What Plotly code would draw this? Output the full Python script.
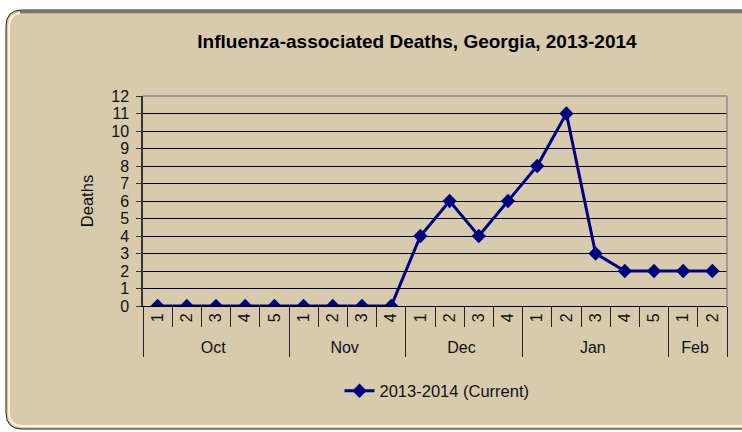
import plotly.graph_objects as go

# ---- data ----
months = ["Oct"] * 5 + ["Nov"] * 4 + ["Dec"] * 4 + ["Jan"] * 5 + ["Feb"] * 2
weeks = ["1", "2", "3", "4", "5",
         "1", "2", "3", "4",
         "1", "2", "3", "4",
         "1", "2", "3", "4", "5",
         "1", "2"]
deaths = [0, 0, 0, 0, 0,
          0, 0, 0, 0,
          4, 6, 4, 6,
          8, 11, 3, 2, 2,
          2, 2]
y_ticks = list(range(0, 13))

# ---- geometry (pixels in the 742x432 window) ----
W, H = 742, 432
L, R, T, B = 143, 727, 96, 306
PW, PH = R - L, B - T


def px(x):
    return (x - L) / PW


def py(y):
    return (B - y) / PH


def rounded(x0, y0, x1, y1, r):
    return (f"M {px(x0 + r)},{py(y0)} L {px(x1 - r)},{py(y0)} "
            f"Q {px(x1)},{py(y0)} {px(x1)},{py(y0 + r)} "
            f"L {px(x1)},{py(y1 - r)} Q {px(x1)},{py(y1)} {px(x1 - r)},{py(y1)} "
            f"L {px(x0 + r)},{py(y1)} Q {px(x0)},{py(y1)} {px(x0)},{py(y1 - r)} "
            f"L {px(x0)},{py(y0 + r)} Q {px(x0)},{py(y0)} {px(x0 + r)},{py(y0)} Z")


FONT = "Liberation Sans, Arial, sans-serif"
NAVY = "#000080"
TAN = "#D8CAAC"

fig = go.Figure()
fig.add_trace(go.Scatter(
    x=[months, weeks], y=deaths,
    mode="lines+markers",
    name="2013-2014 (Current)",
    line=dict(color=NAVY, width=3),
    marker=dict(symbol="diamond", size=11, color=NAVY),
    hoverinfo="skip",
))

shapes = [
    dict(type="path", xref="paper", yref="paper", layer="below",
         path=rounded(6, 10, 780, 429, 16),
         fillcolor=TAN, line=dict(color="#202020", width=1)),
    dict(type="path", xref="paper", yref="paper", layer="below",
         path=rounded(9, 13, 780, 426, 14),
         fillcolor=TAN, line=dict(color="#FFF4D2", width=2)),
    dict(type="line", xref="paper", yref="paper", layer="below",
         x0=px(20), x1=px(780), y0=py(12), y1=py(12),
         line=dict(color="#7A735E", width=3)),
    dict(type="line", xref="paper", yref="paper",
         x0=0, x1=1, y0=1, y1=1, line=dict(color="#8C8C8C", width=1.5)),
    dict(type="line", xref="paper", yref="paper",
         x0=1, x1=1, y0=0, y1=1, line=dict(color="#8C8C8C", width=1.5)),
]

fig.update_layout(
    width=W, height=H,
    margin=dict(l=L, r=W - R, t=T, b=H - B, pad=0),
    paper_bgcolor="white",
    plot_bgcolor=TAN,
    hovermode=False,
    font=dict(family=FONT, size=16, color="#111111"),
    title=dict(text="<b>Influenza-associated Deaths, Georgia, 2013-2014</b>",
               font=dict(family=FONT, size=19, color="#000000"),
               xref="paper", x=px(417), xanchor="center",
               yref="container", y=1 - 41 / H, yanchor="middle"),
    showlegend=True,
    legend=dict(orientation="h", x=px(437), xanchor="center",
                y=py(391), yanchor="middle",
                bgcolor="rgba(0,0,0,0)",
                font=dict(family=FONT, size=16.5, color="#111111")),
    shapes=shapes,
)

fig.update_xaxes(
    type="multicategory",
    range=[-0.5, len(deaths) - 0.5],
    tickangle=-90,
    ticks="outside", ticklen=20, tickcolor="#222222",
    tickson="boundaries",
    showdividers=True, dividercolor="#222222", dividerwidth=1,
    showgrid=False,
    showline=True, linecolor="#000000", linewidth=1,
    tickfont=dict(family=FONT, size=16, color="#111111"),
)
fig.update_yaxes(
    range=[0, 12], tickvals=y_ticks,
    ticks="outside", ticklen=5, tickcolor="#333333",
    ticklabelstandoff=4,
    showgrid=True, gridcolor="#000000", gridwidth=1,
    showline=True, linecolor="#333333", linewidth=1.5,
    zeroline=False,
    tickfont=dict(family=FONT, size=16, color="#111111"),
    title=dict(text="Deaths", font=dict(family=FONT, size=16.5, color="#111111"),
               standoff=13),
)

fig.write_html(
    "out.html",
    config={"displayModeBar": False},
    post_script="document.body.style.margin='0';document.body.style.overflow='hidden';",
)
